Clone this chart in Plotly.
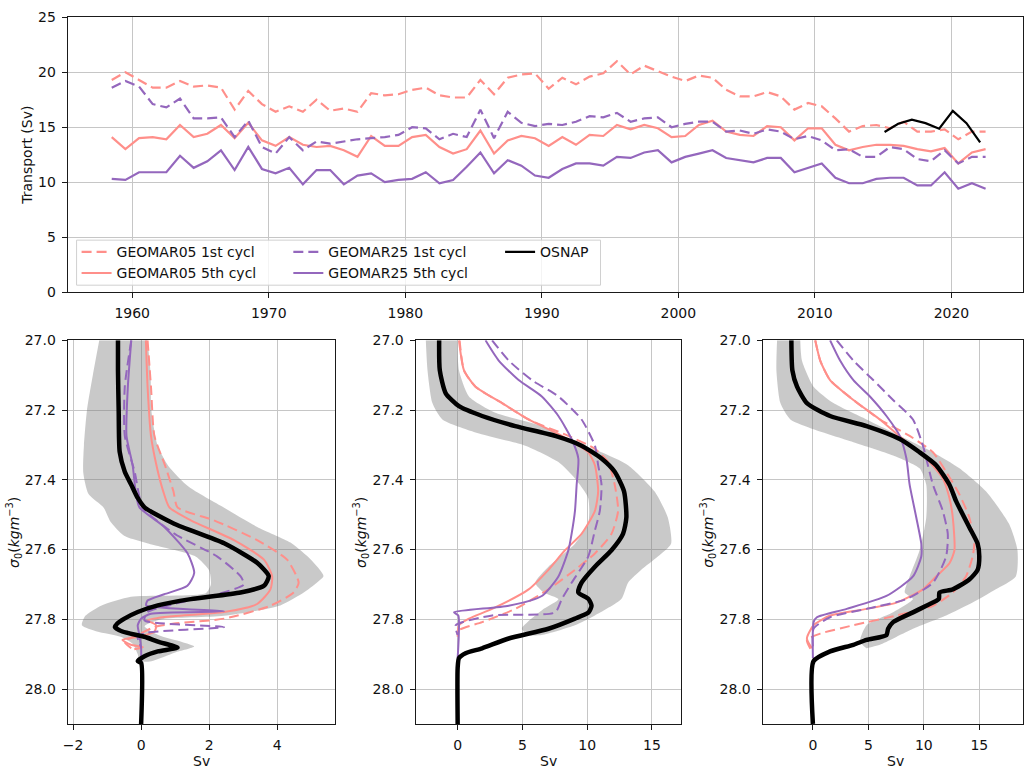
import plotly.graph_objects as go

# ---------------- data: top panel (annual transports, Sv) ----------------
years = [1958.5 + i for i in range(65)]
g05_1st = [19.3, 20.0, 19.3, 18.6, 18.6, 19.2, 18.7, 18.8, 18.6, 16.6,
           18.3, 17.1, 16.4, 16.9, 16.4, 17.5, 16.5, 16.7, 16.4, 18.1,
           17.9, 18.0, 18.4, 18.6, 17.9, 17.7, 17.7, 19.3, 18.0, 19.5,
           19.8, 19.9, 18.5, 19.5, 18.9, 19.6, 19.9, 21.0, 19.8, 20.6,
           20.1, 19.6, 19.2, 19.7, 19.5, 18.4, 17.8, 17.8, 18.2, 17.8,
           16.6, 17.2, 16.9, 15.8, 14.6, 15.1, 15.2, 14.9, 15.5, 14.6,
           14.6, 14.8, 13.9, 14.6, 14.6]
g05_5th = [14.1, 13.0, 14.0, 14.1, 13.9, 15.2, 14.1, 14.4, 15.2, 14.0,
           15.4, 13.8, 13.3, 14.1, 13.4, 13.2, 13.3, 12.9, 12.3, 14.2,
           13.3, 13.3, 14.1, 14.3, 13.2, 12.6, 13.0, 14.7, 12.6, 13.8,
           14.2, 14.0, 13.3, 14.1, 13.4, 14.3, 14.2, 15.2, 14.8, 15.2,
           14.9, 14.1, 14.2, 15.2, 15.6, 14.6, 14.3, 14.2, 15.1, 15.0,
           13.8, 14.9, 14.9, 13.4, 12.9, 13.2, 13.4, 13.4, 13.3, 13.0,
           12.8, 13.1, 11.7, 12.7, 13.0]
g25_1st = [18.6, 19.2, 18.7, 17.1, 16.8, 17.6, 15.8, 15.8, 15.9, 14.1,
           15.6, 13.2, 12.6, 14.1, 12.9, 13.7, 13.5, 13.7, 13.9, 14.0,
           14.1, 14.3, 15.0, 14.9, 13.9, 14.4, 14.1, 16.6, 14.0, 16.4,
           15.4, 15.1, 15.3, 15.2, 15.5, 16.0, 15.9, 16.3, 15.5, 15.8,
           15.9, 15.0, 15.3, 15.5, 15.5, 14.6, 14.7, 14.4, 14.8, 14.6,
           13.9, 14.2, 13.8, 12.9, 13.0, 12.3, 12.3, 13.2, 13.0, 12.1,
           11.9, 12.9, 11.7, 12.3, 12.3]
g25_5th = [10.3, 10.2, 10.9, 10.9, 10.9, 12.4, 11.3, 11.9, 12.9, 11.1,
           13.2, 11.2, 10.8, 11.3, 9.8, 11.1, 11.1, 9.8, 10.6, 10.8,
           10.0, 10.2, 10.3, 10.9, 9.9, 10.2, 11.4, 12.7, 10.8, 12.0,
           11.5, 10.6, 10.4, 11.2, 11.7, 11.7, 11.5, 12.3, 12.2, 12.7,
           12.9, 11.8, 12.3, 12.6, 12.9, 12.2, 12.0, 11.8, 12.2, 12.2,
           10.9, 11.3, 11.7, 10.4, 9.9, 9.9, 10.3, 10.4, 10.4, 9.7,
           9.7, 10.9, 9.4, 9.9, 9.4]
osnap_years = [2015.1, 2016.1, 2017.1, 2018.1, 2019.1, 2020.1, 2021.1, 2022.1]
osnap = [14.56, 15.31, 15.69, 15.37, 14.86, 16.49, 15.37, 13.62]

year_ticks = [1960, 1970, 1980, 1990, 2000, 2010, 2020]
transport_ticks = [0, 5, 10, 15, 20, 25]
sigma_ticks = [27.0, 27.2, 27.4, 27.6, 27.8, 28.0]
p1_ticks = [-2, 0, 2, 4]
p23_ticks = [0, 5, 10, 15]

# ---------------- data: panel 1 (transport per density, Sv) ----------------
p1_band_lo_sig = [27.00, 27.10, 27.20, 27.30, 27.38, 27.44, 27.48, 27.52, 27.56, 27.59,
                  27.62, 27.66, 27.70, 27.725, 27.735, 27.76, 27.79, 27.817, 27.835,
                  27.85, 27.87, 27.90, 27.92]
p1_band_lo = [-1.23, -1.42, -1.59, -1.68, -1.70, -1.55, -1.10, -0.90, -0.50, 0.50,
              1.60, 2.00, 2.05, 1.90, -0.30, -1.16, -1.64, -1.74, -1.30,
              -0.60, -0.25, -0.10, -0.05]
p1_band_hi_sig = [27.00, 27.10, 27.20, 27.30, 27.36, 27.42, 27.48, 27.535, 27.58, 27.63,
                  27.676, 27.70, 27.723, 27.76, 27.79, 27.80, 27.82, 27.845, 27.865,
                  27.878, 27.895, 27.92]
p1_band_hi = [0.19, 0.28, 0.30, 0.48, 0.80, 1.40, 2.44, 3.41, 4.39, 5.00,
              5.36, 5.10, 4.78, 4.09, 2.44, 0.60, 0.10, 0.50, 1.20,
              1.56, 1.00, 0.30]
p1_osnap_sig = [27.000, 27.086, 27.200, 27.320, 27.377, 27.414, 27.452, 27.479, 27.526,
                27.582, 27.638, 27.676, 27.704, 27.723, 27.742, 27.760, 27.779, 27.798,
                27.812, 27.822, 27.835, 27.850, 27.864, 27.881, 27.892, 27.906, 27.920,
                27.925, 28.100]
p1_osnap = [-0.68, -0.68, -0.66, -0.63, -0.48, -0.29, -0.10, 0.10, 0.97,
            2.44, 3.41, 3.75, 3.61, 2.92, 1.46, 0.49, -0.10, -0.49,
            -0.70, -0.77, -0.55, 0.10, 0.49, 1.07, 0.49, 0.10, -0.10,
            0.00, 0.00]
p1_g05_5th_sig = [27.000, 27.133, 27.274, 27.358, 27.433, 27.479, 27.516, 27.573, 27.629,
                  27.676, 27.714, 27.756, 27.779, 27.793, 27.803, 27.817, 27.836, 27.850,
                  27.859, 27.873, 27.880, 27.886]
p1_g05_5th = [0.14, 0.19, 0.29, 0.45, 0.65, 0.83, 1.46, 2.73, 3.61,
              3.85, 3.80, 3.41, 2.44, 0.68, 0.19, 0.44, 0.39, -0.10,
              -0.55, -0.30, 0.05, -0.20]
p1_g05_1st_sig = [27.000, 27.133, 27.274, 27.358, 27.433, 27.479, 27.516, 27.573, 27.629,
                  27.695, 27.723, 27.761, 27.798, 27.812, 27.822, 27.840, 27.864, 27.883]
p1_g05_1st = [0.19, 0.29, 0.39, 0.70, 0.95, 1.07, 2.14, 3.41, 4.29,
              4.63, 4.48, 3.80, 2.44, 0.97, 0.39, 0.00, -0.49, -0.29]
p1_g25_5th_sig = [27.000, 27.133, 27.274, 27.358, 27.442, 27.479, 27.535, 27.610, 27.667,
                  27.704, 27.728, 27.746, 27.760, 27.777, 27.784, 27.798, 27.817, 27.845,
                  27.883, 27.930]
p1_g25_5th = [-0.29, -0.39, -0.43, -0.25, -0.15, -0.05, 0.68, 1.36, 1.56,
              1.36, 0.68, 0.19, 0.15, 2.44, 0.29, 0.00, -0.10, -0.05,
              0.00, 0.00]
p1_g25_1st_sig = [27.000, 27.133, 27.274, 27.377, 27.479, 27.554, 27.620, 27.676, 27.700,
                  27.728, 27.756, 27.779, 27.803, 27.822, 27.838, 27.850, 27.880]
p1_g25_1st = [-0.29, -0.48, -0.48, -0.19, 0.05, 0.97, 2.24, 2.92, 3.02,
              2.24, 0.97, 0.19, 0.10, 2.44, 0.19, -0.10, 0.00]

# ---------------- data: panel 2 ----------------
p2_band_lo_sig = [27.000, 27.086, 27.180, 27.227, 27.264, 27.302, 27.349, 27.396, 27.452,
                  27.527, 27.583, 27.649, 27.695, 27.723, 27.742, 27.770, 27.827, 27.845]
p2_band_lo = [-2.46, -2.33, -1.95, -1.18, 1.38, 5.22, 7.78, 9.06, 10.08,
              10.08, 9.06, 7.01, 5.99, 6.65, 7.78, 6.65, 4.96, 5.48]
p2_band_hi_sig = [27.000, 27.086, 27.161, 27.208, 27.246, 27.292, 27.321, 27.358, 27.433,
                  27.508, 27.583, 27.620, 27.658, 27.695, 27.742, 27.789, 27.817, 27.845]
p2_band_hi = [-0.03, 0.10, 0.87, 2.92, 6.50, 9.06, 11.11, 13.16, 15.20,
              16.23, 16.48, 15.46, 14.18, 13.16, 12.64, 10.60, 9.06, 6.50]
p2_osnap_sig = [27.000, 27.086, 27.152, 27.189, 27.217, 27.246, 27.274, 27.302, 27.339,
                27.377, 27.433, 27.508, 27.555, 27.602, 27.649, 27.695, 27.723, 27.742,
                27.761, 27.780, 27.798, 27.827, 27.855, 27.883, 27.897, 27.911, 27.939,
                28.100]
p2_osnap = [-1.43, -1.38, -0.92, 0.10, 1.89, 4.45, 7.53, 9.57, 11.11,
            12.13, 12.85, 13.03, 12.77, 11.88, 10.60, 9.57, 9.32, 10.11,
            10.34, 10.11, 9.06, 7.01, 3.94, 1.89, 0.61, 0.10, 0.00,
            0.00]
p2_g05_5th_sig = [27.000, 27.086, 27.133, 27.180, 27.227, 27.274, 27.321, 27.358, 27.433,
                  27.489, 27.555, 27.602, 27.658, 27.714, 27.770, 27.798, 27.817, 27.845]
p2_g05_5th = [0.10, 0.49, 1.38, 3.43, 5.48, 8.04, 10.08, 10.60, 10.85,
              10.60, 9.57, 8.29, 7.01, 5.48, 2.66, 0.87, 0.10, 0.00]
p2_g05_1st_sig = [27.000, 27.086, 27.133, 27.180, 27.227, 27.274, 27.311, 27.349, 27.414,
                  27.489, 27.555, 27.611, 27.658, 27.714, 27.770, 27.808, 27.831, 27.850]
p2_g05_1st = [0.15, 0.49, 1.38, 3.43, 5.48, 8.55, 10.60, 11.62, 12.13,
              12.39, 11.88, 10.60, 9.06, 7.01, 4.45, 1.89, 0.10, 0.00]
p2_g25_5th_sig = [27.000, 27.058, 27.114, 27.161, 27.217, 27.283, 27.339, 27.414, 27.489,
                  27.555, 27.602, 27.677, 27.733, 27.761, 27.780, 27.789, 27.911]
p2_g25_5th = [2.15, 3.17, 4.71, 6.50, 7.78, 8.80, 9.32, 9.19, 9.06,
              8.80, 8.55, 7.78, 6.50, 3.94, -0.28, 0.05, 0.00]
p2_g25_1st_sig = [27.000, 27.058, 27.114, 27.161, 27.227, 27.302, 27.358, 27.414, 27.489,
                  27.545, 27.620, 27.695, 27.742, 27.780, 27.789, 27.817, 27.845]
p2_g25_1st = [2.66, 3.94, 5.73, 7.78, 9.57, 10.60, 10.85, 11.11, 10.98,
              10.60, 10.08, 8.80, 8.04, 7.53, 2.66, -0.15, 0.00]

# ---------------- data: panel 3 ----------------
p3_band_lo_sig = [27.000, 27.086, 27.180, 27.227, 27.255, 27.292, 27.330, 27.367, 27.414,
                  27.508, 27.602, 27.677, 27.723, 27.742, 27.780, 27.817, 27.864, 27.883]
p3_band_lo = [-3.23, -3.29, -2.93, -2.03, 0.06, 3.65, 7.23, 9.62, 10.22,
              10.22, 9.62, 8.72, 8.28, 9.02, 7.23, 4.84, 4.24, 4.84]
p3_band_hi_sig = [27.000, 27.058, 27.133, 27.180, 27.227, 27.283, 27.321, 27.367, 27.433,
                  27.527, 27.602, 27.677, 27.714, 27.752, 27.789, 27.827, 27.873, 27.883]
p3_band_hi = [-1.14, -0.99, 0.06, 1.85, 4.84, 8.43, 10.82, 13.21, 15.60,
              17.69, 18.44, 18.29, 16.49, 14.40, 12.01, 9.02, 6.04, 4.84]
p3_osnap_sig = [27.000, 27.086, 27.133, 27.180, 27.217, 27.246, 27.283, 27.321, 27.358,
                27.414, 27.461, 27.536, 27.583, 27.620, 27.658, 27.686, 27.714, 27.723,
                27.742, 27.761, 27.780, 27.808, 27.827, 27.845, 27.859, 27.873, 27.892,
                27.920, 28.100]
p3_osnap = [-1.94, -1.85, -1.43, -0.54, 1.55, 4.84, 7.83, 9.62, 11.11,
            12.31, 12.91, 14.10, 14.85, 15.00, 14.85, 14.10, 12.61, 11.41,
            11.35, 10.22, 9.02, 7.23, 6.78, 6.63, 4.84, 3.65, 1.55,
            0.06, 0.00]
p3_g05_5th_sig = [27.000, 27.058, 27.114, 27.171, 27.227, 27.292, 27.339, 27.396, 27.452,
                  27.508, 27.602, 27.639, 27.677, 27.714, 27.752, 27.770, 27.789, 27.817,
                  27.855, 27.883]
p3_g05_5th = [0.21, 0.66, 1.55, 3.65, 6.04, 8.43, 10.22, 11.71, 12.31,
              12.61, 12.76, 12.31, 11.11, 9.92, 7.53, 4.84, 1.55, 0.06,
              -0.54, -0.09]
p3_g05_1st_sig = [27.000, 27.058, 27.114, 27.171, 27.227, 27.274, 27.321, 27.377, 27.442,
                  27.508, 27.583, 27.620, 27.677, 27.723, 27.761, 27.789, 27.817, 27.841,
                  27.859, 27.892]
p3_g05_1st = [0.21, 0.66, 1.55, 3.65, 6.04, 8.72, 10.82, 12.01, 13.21,
              14.10, 14.55, 14.40, 13.80, 12.61, 10.82, 7.53, 3.65, 0.66,
              -0.54, -0.09]
p3_g25_5th_sig = [27.000, 27.058, 27.114, 27.161, 27.217, 27.274, 27.339, 27.414, 27.508,
                  27.583, 27.620, 27.677, 27.733, 27.770, 27.794, 27.808, 27.911]
p3_g25_5th = [1.55, 2.45, 3.65, 5.14, 6.63, 7.83, 8.43, 8.72, 9.32,
              9.77, 9.77, 9.02, 6.63, 3.05, 0.36, 0.06, 0.00]
p3_g25_1st_sig = [27.000, 27.058, 27.114, 27.171, 27.227, 27.302, 27.339, 27.414, 27.489,
                  27.555, 27.620, 27.695, 27.742, 27.770, 27.794, 27.827, 27.883]
p3_g25_1st = [2.15, 3.65, 5.44, 7.23, 9.02, 9.92, 10.22, 10.82, 11.71,
              12.16, 12.01, 10.82, 8.43, 4.84, 1.55, 0.06, 0.00]

# ---------------- styles ----------------
PINK = "#ff8f8a"
PURPLE = "#9467bd"
BLACK = "#000000"
BAND = "rgba(120,120,120,0.40)"
GRID = "#c6c6c6"
FONT = "DejaVu Sans"
DASH = "10px,5px"
W = 1024
H = 778
SMOOTH = 0.6

fig = go.Figure()

# top panel
top_series = [
    (g05_1st, PINK, DASH, "GEOMAR05 1st cycl", "legend"),
    (g05_5th, PINK, "solid", "GEOMAR05 5th cycl", "legend"),
    (g25_1st, PURPLE, DASH, "GEOMAR25 1st cycl", "legend2"),
    (g25_5th, PURPLE, "solid", "GEOMAR25 5th cycl", "legend2"),
]
for vals, col, dash, name, leg in top_series:
    fig.add_trace(go.Scatter(x=years, y=vals, mode="lines", name=name, legend=leg,
                             line=dict(color=col, width=2.2, dash=dash),
                             xaxis="x", yaxis="y"))
fig.add_trace(go.Scatter(x=osnap_years, y=osnap, mode="lines", name="OSNAP", legend="legend3",
                         line=dict(color=BLACK, width=2.2), xaxis="x", yaxis="y"))

# bottom panels
panels = [
    ("x2", "y2", p1_band_lo, p1_band_lo_sig, p1_band_hi, p1_band_hi_sig,
     [(p1_g05_1st, p1_g05_1st_sig, PINK, DASH), (p1_g05_5th, p1_g05_5th_sig, PINK, "solid"),
      (p1_g25_1st, p1_g25_1st_sig, PURPLE, DASH), (p1_g25_5th, p1_g25_5th_sig, PURPLE, "solid")],
     p1_osnap, p1_osnap_sig),
    ("x3", "y3", p2_band_lo, p2_band_lo_sig, p2_band_hi, p2_band_hi_sig,
     [(p2_g05_1st, p2_g05_1st_sig, PINK, DASH), (p2_g05_5th, p2_g05_5th_sig, PINK, "solid"),
      (p2_g25_1st, p2_g25_1st_sig, PURPLE, DASH), (p2_g25_5th, p2_g25_5th_sig, PURPLE, "solid")],
     p2_osnap, p2_osnap_sig),
    ("x4", "y4", p3_band_lo, p3_band_lo_sig, p3_band_hi, p3_band_hi_sig,
     [(p3_g05_1st, p3_g05_1st_sig, PINK, DASH), (p3_g05_5th, p3_g05_5th_sig, PINK, "solid"),
      (p3_g25_1st, p3_g25_1st_sig, PURPLE, DASH), (p3_g25_5th, p3_g25_5th_sig, PURPLE, "solid")],
     p3_osnap, p3_osnap_sig),
]
for xa, ya, lo, lo_s, hi, hi_s, lines, ox, osig in panels:
    fig.add_trace(go.Scatter(x=lo + hi[::-1], y=lo_s + hi_s[::-1], mode="lines",
                             fill="toself", fillcolor=BAND,
                             line=dict(width=0, shape="spline", smoothing=SMOOTH),
                             showlegend=False, hoverinfo="skip", xaxis=xa, yaxis=ya))
    for sv, sg, col, dash in lines:
        fig.add_trace(go.Scatter(x=sv, y=sg, mode="lines", showlegend=False,
                                 line=dict(color=col, width=2, dash=dash,
                                           shape="spline", smoothing=SMOOTH),
                                 xaxis=xa, yaxis=ya))
    fig.add_trace(go.Scatter(x=ox, y=osig, mode="lines", showlegend=False,
                             line=dict(color=BLACK, width=4.5, shape="spline", smoothing=SMOOTH),
                             xaxis=xa, yaxis=ya))

axis_common = dict(showline=True, mirror=True, linecolor="#1a1a1a", linewidth=1,
                   ticks="outside", ticklen=5, tickwidth=1, tickcolor="#1a1a1a",
                   showgrid=True, gridcolor=GRID, gridwidth=1, zeroline=False,
                   tickfont=dict(family=FONT, size=14, color="#111111"),
                   ticklabelstandoff=3)

def px_x(p):
    return p / W

def px_y(p):
    return 1 - p / H

top_y = [px_y(290), px_y(9.5)]
bot_y = [px_y(731), px_y(339.3)]

fig.update_layout(
    width=W, height=H, margin=dict(l=0, r=0, t=0, b=0),
    paper_bgcolor="white", plot_bgcolor="white",
    font=dict(family=FONT, size=14, color="#111111"),
    xaxis=dict(domain=[px_x(63), 1.0], range=[1955.27, 2025.24], tickvals=year_ticks,
               anchor="y", **axis_common),
    yaxis=dict(domain=top_y, range=[0, 25], tickvals=transport_ticks, anchor="x",
               **axis_common),
    xaxis2=dict(domain=[px_x(63), px_x(332)], range=[-2.16, 5.7], tickvals=p1_ticks,
                anchor="y2", **axis_common),
    yaxis2=dict(domain=bot_y, range=[28.1, 27.0], tickvals=sigma_ticks, tickformat=".1f",
                anchor="x2", **axis_common),
    xaxis3=dict(domain=[px_x(413), px_x(680)], range=[-3.25, 17.25], tickvals=p23_ticks,
                anchor="y3", **axis_common),
    yaxis3=dict(domain=bot_y, range=[28.1, 27.0], tickvals=sigma_ticks, tickformat=".1f",
                anchor="x3", **axis_common),
    xaxis4=dict(domain=[px_x(762), 1.0], range=[-4.54, 18.94], tickvals=p23_ticks,
                anchor="y4", **axis_common),
    yaxis4=dict(domain=bot_y, range=[28.1, 27.0], tickvals=sigma_ticks, tickformat=".1f",
                anchor="x4", **axis_common),
    showlegend=True,
)

leg_common = dict(xanchor="left", yanchor="top", bgcolor="rgba(0,0,0,0)", borderwidth=0,
                  font=dict(family=FONT, size=14, color="#111111"), itemwidth=30,
                  tracegroupgap=0, orientation="v")
fig.update_layout(
    legend=dict(x=px_x(72), y=px_y(233), **leg_common),
    legend2=dict(x=px_x(285), y=px_y(233), **leg_common),
    legend3=dict(x=px_x(498), y=px_y(233), **leg_common),
)

# legend frame
fig.add_shape(type="rect", xref="paper", yref="paper",
              x0=px_x(72), x1=px_x(599), y0=px_y(283), y1=px_y(237),
              line=dict(color="#d0d0d0", width=1), fillcolor="rgba(255,255,255,0.8)",
              layer="above")

# axis titles as annotations
ann = [
    dict(text="Transport (Sv)", x=px_x(22), y=px_y(150), textangle=-90),
    dict(text="Sv", x=px_x(198), y=px_y(769), textangle=0),
    dict(text="Sv", x=px_x(547), y=px_y(769), textangle=0),
    dict(text="Sv", x=px_x(896), y=px_y(769), textangle=0),
]
sig_title = "<i>σ</i><sub>0</sub>(<i>kgm</i><sup>−3</sup>)"
for xp in (9, 358, 707):
    ann.append(dict(text=sig_title, x=px_x(xp), y=px_y(535), textangle=-90))
for a in ann:
    fig.add_annotation(xref="paper", yref="paper", showarrow=False,
                       xanchor="center", yanchor="middle",
                       font=dict(family=FONT, size=14, color="#111111"), **a)

fig.write_html("out.html")
